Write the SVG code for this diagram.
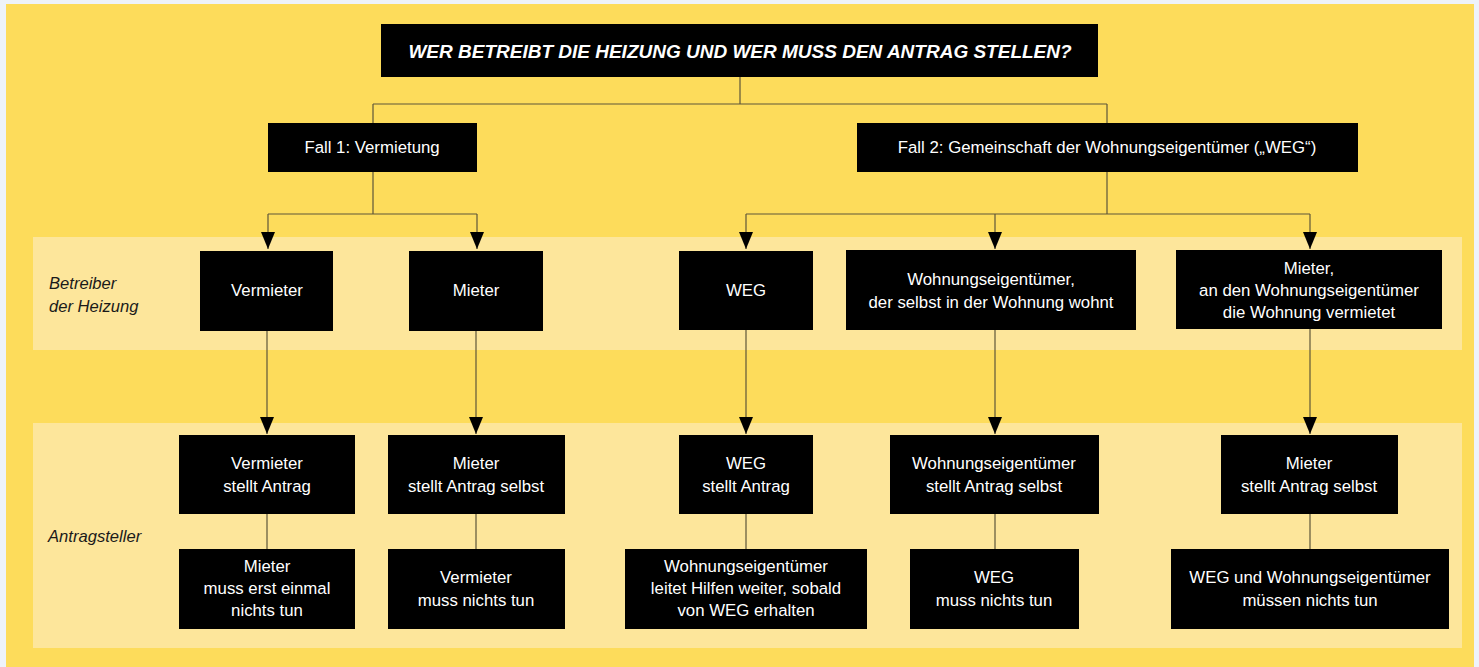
<svg xmlns="http://www.w3.org/2000/svg" width="1479" height="667" viewBox="0 0 1479 667">
<style>
.box{fill:#000;}
.t{font-family:"Liberation Sans",Arial,sans-serif;font-size:16.8px;fill:#fff;text-anchor:middle;}
.title{font-family:"Liberation Sans",Arial,sans-serif;font-size:19px;font-weight:bold;font-style:italic;fill:#fff;text-anchor:middle;}
.side{font-family:"Liberation Sans",Arial,sans-serif;font-size:16.6px;font-style:italic;fill:#1a1a1a;}
.c{fill:none;stroke:#5e563a;stroke-width:1.2;}
</style>
<defs>
<marker id="ah" viewBox="0 0 17 14" markerWidth="17" markerHeight="14" refX="17" refY="7" orient="auto" markerUnits="userSpaceOnUse">
<path d="M0,0 L17,7 L0,14 z" fill="#000"/>
</marker>
</defs>
<rect x="0" y="0" width="1479" height="667" fill="#eef3fa"/>
<rect x="6" y="4" width="1468" height="663" fill="#fddc5b"/>
<rect x="33" y="237" width="1429" height="113" fill="#fde69b"/>
<rect x="33" y="423" width="1429" height="225" fill="#fde69b"/>
<text class="side" x="49" y="289">Betreiber</text>
<text class="side" x="49" y="312">der Heizung</text>
<text class="side" x="48" y="542">Antragsteller</text>
<g id="connectors">
<path class="c" d="M740,77 V104 M373,104 H1107 M373,104 V123 M1107,104 V123"/>
<path class="c" d="M373,172 V214 M268,214 H477 M1107,172 V214 M746,214 H1310"/>
<path class="c" d="M268,214 V249" marker-end="url(#ah)"/>
<path class="c" d="M477,214 V249" marker-end="url(#ah)"/>
<path class="c" d="M746,214 V249" marker-end="url(#ah)"/>
<path class="c" d="M995,214 V249" marker-end="url(#ah)"/>
<path class="c" d="M1310,214 V249" marker-end="url(#ah)"/>
<path class="c" d="M267,331 V434" marker-end="url(#ah)"/>
<path class="c" d="M476,331 V434" marker-end="url(#ah)"/>
<path class="c" d="M746,330 V434" marker-end="url(#ah)"/>
<path class="c" d="M995,330 V434" marker-end="url(#ah)"/>
<path class="c" d="M1310,329 V434" marker-end="url(#ah)"/>
<path class="c" d="M267,514 V549 M476,514 V549 M746,514 V549 M995,514 V549 M1310,514 V549"/>
</g>
<g id="title"><rect class="box" x="381" y="24" width="717" height="53"/><text class="title" x="740" y="58">WER BETREIBT DIE HEIZUNG UND WER MUSS DEN ANTRAG STELLEN?</text></g>
<g id="fall1"><rect class="box" x="268" y="123" width="209" height="49"/><text class="t" x="372" y="153">Fall 1: Vermietung</text></g>
<g id="fall2"><rect class="box" x="857" y="123" width="501" height="49"/><text class="t" x="1107" y="153">Fall 2: Gemeinschaft der Wohnungseigentümer („WEG“)</text></g>
<g id="b-vermieter"><rect class="box" x="200" y="251" width="133" height="80"/><text class="t" x="267" y="296">Vermieter</text></g>
<g id="b-mieter"><rect class="box" x="409" y="251" width="134" height="80"/><text class="t" x="476" y="296">Mieter</text></g>
<g id="b-weg"><rect class="box" x="679" y="251" width="134" height="79"/><text class="t" x="746" y="296">WEG</text></g>
<g id="b-weigen"><rect class="box" x="846" y="250" width="290" height="80"/><text class="t" x="991" y="285">Wohnungseigentümer,</text><text class="t" x="991" y="308">der selbst in der Wohnung wohnt</text></g>
<g id="b-mieter2"><rect class="box" x="1176" y="250" width="266" height="79"/><text class="t" x="1309" y="274">Mieter,</text><text class="t" x="1309" y="296">an den Wohnungseigentümer</text><text class="t" x="1309" y="318">die Wohnung vermietet</text></g>
<g id="a-vermieter"><rect class="box" x="179" y="435" width="176" height="79"/><text class="t" x="267" y="469">Vermieter</text><text class="t" x="267" y="492">stellt Antrag</text></g>
<g id="a-mieter"><rect class="box" x="388" y="435" width="177" height="79"/><text class="t" x="476" y="469">Mieter</text><text class="t" x="476" y="492">stellt Antrag selbst</text></g>
<g id="a-weg"><rect class="box" x="679" y="435" width="134" height="79"/><text class="t" x="746" y="469">WEG</text><text class="t" x="746" y="492">stellt Antrag</text></g>
<g id="a-weigen"><rect class="box" x="890" y="435" width="209" height="79"/><text class="t" x="994" y="469">Wohnungseigentümer</text><text class="t" x="994" y="492">stellt Antrag selbst</text></g>
<g id="a-mieter2"><rect class="box" x="1221" y="435" width="177" height="79"/><text class="t" x="1309" y="469">Mieter</text><text class="t" x="1309" y="492">stellt Antrag selbst</text></g>
<g id="r-mieter"><rect class="box" x="179" y="549" width="176" height="80"/><text class="t" x="267" y="572">Mieter</text><text class="t" x="267" y="594">muss erst einmal</text><text class="t" x="267" y="616">nichts tun</text></g>
<g id="r-vermieter"><rect class="box" x="388" y="549" width="177" height="80"/><text class="t" x="476" y="583">Vermieter</text><text class="t" x="476" y="606">muss nichts tun</text></g>
<g id="r-weigen"><rect class="box" x="625" y="549" width="242" height="80"/><text class="t" x="746" y="572">Wohnungseigentümer</text><text class="t" x="746" y="594">leitet Hilfen weiter, sobald</text><text class="t" x="746" y="616">von WEG erhalten</text></g>
<g id="r-weg"><rect class="box" x="910" y="549" width="169" height="80"/><text class="t" x="994" y="583">WEG</text><text class="t" x="994" y="606">muss nichts tun</text></g>
<g id="r-beide"><rect class="box" x="1171" y="549" width="278" height="80"/><text class="t" x="1310" y="583">WEG und Wohnungseigentümer</text><text class="t" x="1310" y="606">müssen nichts tun</text></g>
</svg>
